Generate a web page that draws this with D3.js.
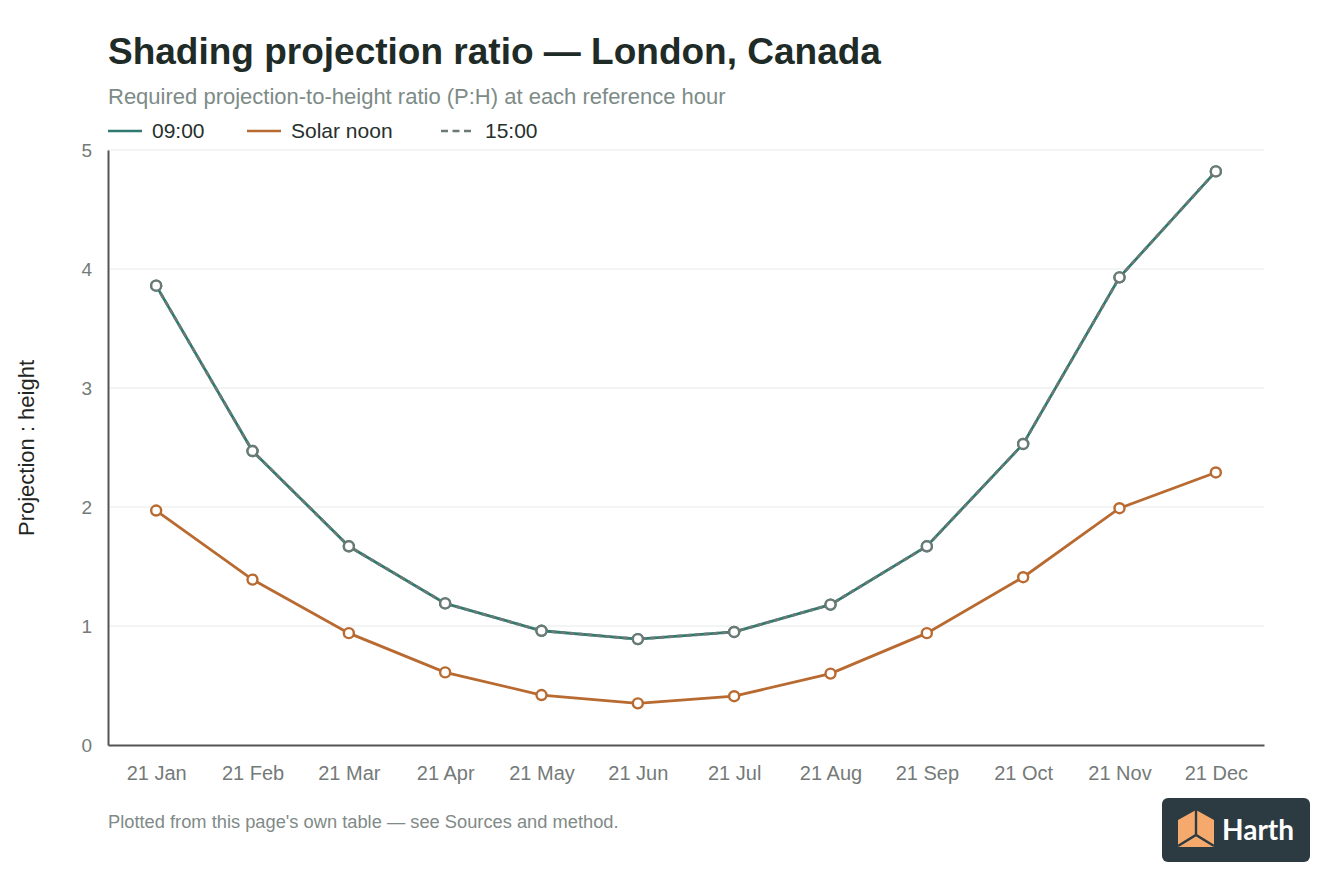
<!DOCTYPE html>
<html>
<head>
<meta charset="UTF-8">
<title>Shading projection ratio</title>
<style>
  html, body { margin: 0; padding: 0; background: #fff; }
  svg { display: block; font-family: "Liberation Sans", Arial, Helvetica, sans-serif; }
</style>
</head>
<body>
<svg width="1344" height="896"></svg>
<script src="https://cdn.jsdelivr.net/npm/d3@7/dist/d3.min.js"></script>
<script>
// data
const months = ["21 Jan", "21 Feb", "21 Mar", "21 Apr", "21 May", "21 Jun",
                "21 Jul", "21 Aug", "21 Sep", "21 Oct", "21 Nov", "21 Dec"];
const morning = [3.86, 2.47, 1.67, 1.19, 0.96, 0.89, 0.95, 1.18, 1.67, 2.53, 3.93, 4.82];
const noon    = [1.97, 1.39, 0.94, 0.61, 0.42, 0.35, 0.41, 0.60, 0.94, 1.41, 1.99, 2.29];
const afternoon = [3.86, 2.47, 1.67, 1.19, 0.96, 0.89, 0.95, 1.18, 1.67, 2.53, 3.93, 4.82];
const yTicks = [0, 1, 2, 3, 4, 5];

const series = [
  { name: "09:00", values: morning, color: "#2f7a70", dash: null },
  { name: "Solar noon", values: noon, color: "#b86a30", dash: null },
  { name: "15:00", values: afternoon, color: "#6c7a76", dash: "5,4" }
];

const svg = d3.select("svg"),
    margin = { top: 150, right: 80, bottom: 151, left: 108 },
    width = +svg.attr("width") - margin.left - margin.right,
    height = +svg.attr("height") - margin.top - margin.bottom;

const x = d3.scalePoint().domain(months).range([0, width]).padding(0.5),
    y = d3.scaleLinear().domain([0, 5]).range([height, 0]);

// title block
svg.append("text")
    .attr("x", 108).attr("y", 64)
    .style("font-size", "37px").style("font-weight", "bold")
    .style("fill", "#1f2b27")
    .text("Shading projection ratio — London, Canada");

svg.append("text")
    .attr("x", 108).attr("y", 104)
    .style("font-size", "22px").style("fill", "#7d8b87")
    .text("Required projection-to-height ratio (P:H) at each reference hour");

// legend
const legendX = [108, 247, 441];
const legend = svg.selectAll(".legend")
    .data(series)
    .enter().append("g")
    .attr("class", "legend")
    .attr("transform", (d, i) => `translate(${legendX[i]},131)`);

legend.append("line")
    .attr("x1", 0).attr("x2", d => d.dash ? 30 : 34)
    .attr("stroke", d => d.color)
    .attr("stroke-width", 2.5)
    .attr("stroke-dasharray", d => d.dash ? "7,4.5" : null);

legend.append("text")
    .attr("x", 44)
    .attr("dy", "0.35em")
    .style("font-size", "21px").style("fill", "#26302d")
    .text(d => d.name);

const g = svg.append("g")
    .attr("transform", `translate(${margin.left},${margin.top})`);

// grid
g.append("g")
    .selectAll("line")
    .data(yTicks.filter(t => t > 0))
    .enter().append("line")
    .attr("x1", 0).attr("x2", width)
    .attr("y1", d => y(d)).attr("y2", d => y(d))
    .attr("stroke", "#e7eae9").attr("stroke-width", 1);

// axes
const yAxis = g.append("g")
    .call(d3.axisLeft(y).tickValues(yTicks).tickFormat(d3.format("d")).tickSize(0).tickPadding(16));
yAxis.select(".domain").attr("stroke", "#555").attr("stroke-width", 2);
yAxis.selectAll("text").style("font-size", "19px").style("fill", "#747a78")
    .style("font-family", "Liberation Sans, Arial, sans-serif");

const xAxis = g.append("g")
    .attr("transform", `translate(0,${height})`)
    .call(d3.axisBottom(x).tickSize(0).tickPadding(21));
xAxis.select(".domain").attr("stroke", "#555").attr("stroke-width", 2);
xAxis.selectAll("text").style("font-size", "20px").style("fill", "#747a78")
    .style("font-family", "Liberation Sans, Arial, sans-serif");

svg.append("text")
    .attr("transform", "translate(34,448) rotate(-90)")
    .attr("text-anchor", "middle")
    .style("font-size", "22px").style("fill", "#1f2624")
    .text("Projection : height");

// lines + markers
const line = d3.line()
    .x((d, i) => x(months[i]))
    .y(d => y(d));

series.forEach(s => {
  g.append("path")
      .datum(s.values)
      .attr("fill", "none")
      .attr("stroke", s.color)
      .attr("stroke-width", 2.8)
      .attr("stroke-dasharray", s.dash)
      .attr("d", line);
});

series.forEach(s => {
  g.selectAll(null)
      .data(s.values)
      .enter().append("circle")
      .attr("cx", (d, i) => x(months[i]))
      .attr("cy", d => y(d))
      .attr("r", 5)
      .attr("fill", "#fff")
      .attr("stroke", s.color)
      .attr("stroke-width", 2.4);
});

// footer
svg.append("text")
    .attr("x", 108).attr("y", 828)
    .style("font-size", "18.3px").style("fill", "#808a87")
    .text("Plotted from this page's own table — see Sources and method.");

// logo badge
const logo = svg.append("g").attr("transform", "translate(1162,798)");
logo.append("rect")
    .attr("width", 148).attr("height", 64).attr("rx", 6)
    .attr("fill", "#2c3a41");
logo.append("path")
    .attr("d", "M16,22 L34,12 L52,22 L52,49 L16,49 Z")
    .attr("fill", "#f5a96c");
logo.append("path")
    .attr("d", "M34,12 L34,37 M16,48 L34,37 L52,48")
    .attr("fill", "none").attr("stroke", "#2c3a41").attr("stroke-width", 2.4);
logo.append("text")
    .attr("x", 60).attr("y", 42)
    .style("font-size", "28px").style("font-weight", "bold")
    .style("fill", "#fff")
    .style("font-family", "Lato, 'Open Sans', sans-serif")
    .text("Harth");
</script>
</body>
</html>
